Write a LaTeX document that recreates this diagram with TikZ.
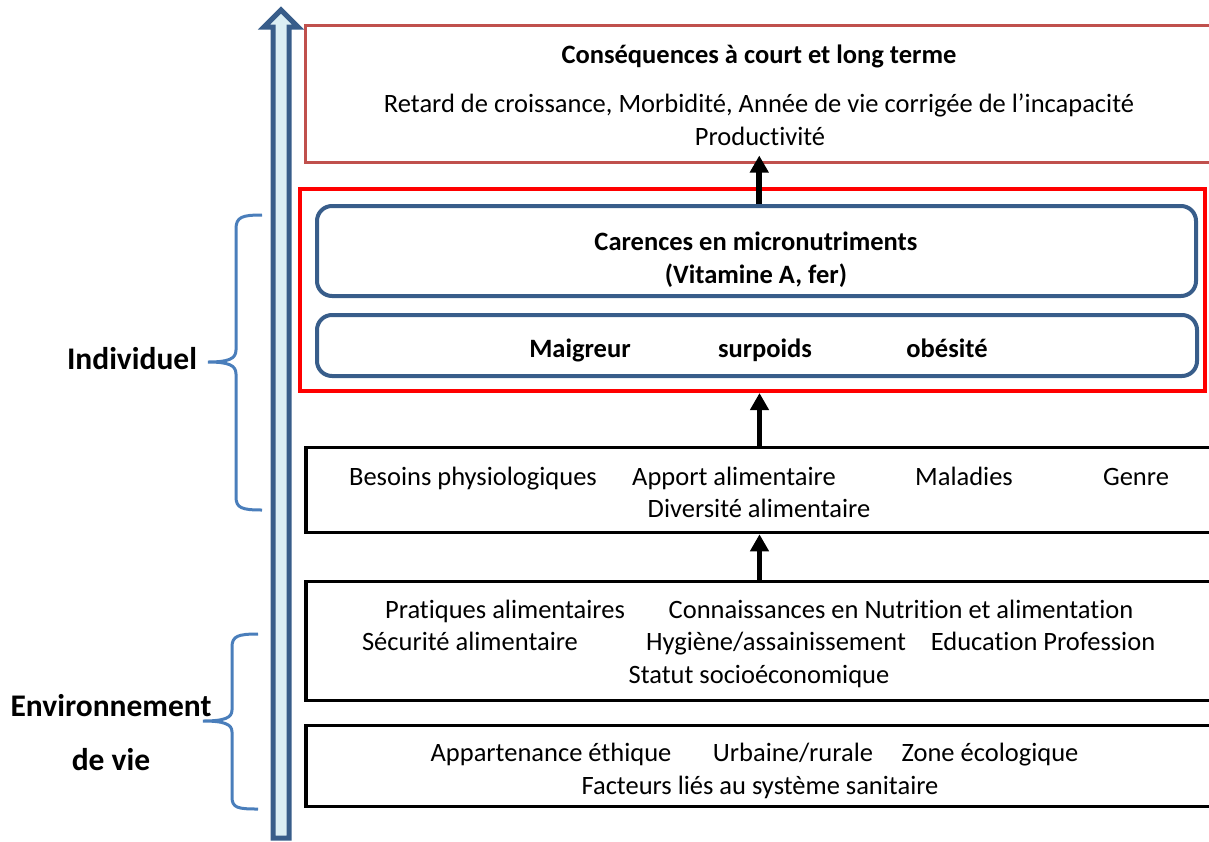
\documentclass[tikz,border=0pt]{standalone}
\usepackage{fontspec}
\setmainfont{Carlito}[Ligatures={TeX,NoCommon}]
\usepackage{xcolor}
\definecolor{pBlue}{HTML}{385D8A}
\definecolor{pBlueLight}{HTML}{DBEEF4}
\definecolor{pBrace}{HTML}{4A7EBB}
\definecolor{pRed}{HTML}{FF0000}
\definecolor{pRedDark}{HTML}{C0504D}
\usepackage{tikz}
\usetikzlibrary{arrows.meta, positioning, fit}

\begin{document}
\begin{tikzpicture}[
  x=0.5pt, y=-0.5pt,
  every node/.style={font=\fontsize{13.25}{16.5}\selectfont,
                     text height=9.5pt, text depth=3pt},
  frame/.style={rectangle, draw=black, line width=1.75pt, inner sep=0pt},
  conframe/.style={rectangle, draw=pRedDark, line width=1.5pt, inner sep=0pt},
  redframe/.style={rectangle, draw=pRed, line width=2pt, inner sep=0pt},
  roundframe/.style={rectangle, rounded corners=7.5pt, draw=pBlue,
                     line width=2pt, inner sep=0pt},
  side/.style={font=\fontsize{15.75}{27}\selectfont\bfseries, align=center},
  brace/.style={draw=pBrace, line width=1.5pt},
  up/.style={-{Triangle[width=9pt,length=8.5pt]}, line width=2.8pt}
]
\clip (0,0) rectangle (1209,841);

% big arrow on the left
\draw[draw=pBlue, fill=pBlueLight, line width=2.5pt]
  (273,838) -- (273,27) -- (264,27) -- (281,10) -- (298,27)
  -- (289,27) -- (289,838) -- cycle;

% frames
\node[conframe, fit={(305.5,25.5) (1213,162.5)}] (conseq) {};
\node[redframe, fit={(300,189) (1205,391)}] (cadre) {};
\node[roundframe, fit={(317,206) (1196,296)}] (carences) {};
\node[roundframe, fit={(317,315) (1197,376)}] (etat) {};
\node[frame, fit={(306,447.5) (1213,532.5)}] (besoins) {};
\node[frame, fit={(306,581.5) (1213,700.5)}] (milieu) {};
\node[frame, fit={(306,725.5) (1213,806.5)}] (contexte) {};

% texts
\node[font=\fontsize{13.25}{16.5}\selectfont\bfseries] (t11) at (759,57) {Conséquences à court et long terme};
\node (t12) at (759,106) {Retard de croissance, Morbidité, Année de vie corrigée de l’incapacité};
\node (t13) at (760,139) {Productivité};

\node[font=\fontsize{13.25}{16.5}\selectfont\bfseries, align=center] (t21) at (756,277)
  {Carences en micronutriments\\(Vitamine A, fer)};

\node[font=\fontsize{13.25}{16.5}\selectfont\bfseries] (t31) at (580,351) {Maigreur};
\node[font=\fontsize{13.25}{16.5}\selectfont\bfseries] (t32) at (765,351) {surpoids};
\node[font=\fontsize{13.25}{16.5}\selectfont\bfseries] (t33) at (947,351) {obésité};

\node (t41) at (473,479) {Besoins physiologiques};
\node (t42) at (734,479) {Apport alimentaire};
\node (t43) at (964,479) {Maladies};
\node (t44) at (1136,479) {Genre};
\node (t45) at (759,511) {Diversité alimentaire};

\node (t51) at (505,612) {Pratiques alimentaires};
\node (t52) at (901,612) {Connaissances en Nutrition et alimentation};
\node (t53) at (470,644) {Sécurité alimentaire};
\node (t54) at (776,644) {Hygiène/assainissement};
\node (t55) at (1043,644) {Education Profession};
\node (t56) at (759,677) {Statut socioéconomique};

\node (t61) at (551,755) {Appartenance éthique};
\node (t62) at (793,755) {Urbaine/rurale};
\node (t63) at (990,755) {Zone écologique};
\node (t64) at (760,788) {Facteurs liés au système sanitaire};

% arrows
\draw[up] (carences.north -| conseq.south) -- ([yshift=4.25pt]conseq.south);
\draw[up] (besoins.north) -- (besoins.north |- cadre.south);
\draw[up] (milieu.north) -- (besoins.south);

% braces and labels
\draw[brace] (262,215) .. controls (242,215) and (236,217) .. (236,229)
  -- (236,350) .. controls (236,359) and (228,362) .. (208,362)
  .. controls (228,362) and (236,365) .. (236,374)
  -- (236,497) .. controls (236,508) and (242,510) .. (262,510);
\draw[brace] (258,634) .. controls (238,634) and (232,636) .. (232,647)
  -- (232,710) .. controls (232,718) and (224,721) .. (203,721)
  .. controls (224,721) and (232,724) .. (232,732)
  -- (232,797) .. controls (232,808) and (238,809) .. (258,809);
\node[side] (indiv) at (132,363) {Individuel};
\node[side] (envir) at (111,764) {Environnement\\de vie};
\end{tikzpicture}
\end{document}
